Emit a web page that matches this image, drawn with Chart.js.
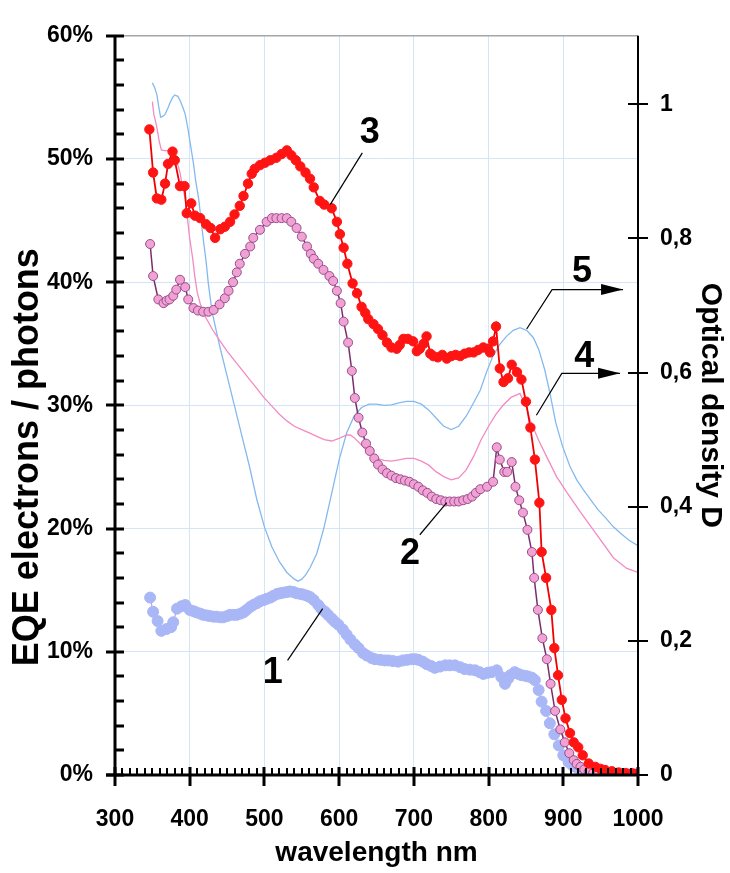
<!DOCTYPE html>
<html>
<head>
<meta charset="utf-8">
<script src="https://cdn.jsdelivr.net/npm/chart.js@4.4.0/dist/chart.umd.min.js"></script>
<style>
  body { margin: 0; background: #fff; }
  #canvas { width: 730px; height: 873px; }
</style>
</head>
<body>
<div id="canvas"><canvas id="myChart" width="730" height="873"></canvas></div>
<script>
// curve 1 - EQE (lavender dots)
const nm1 = [347,351,357,362,369,375,378,383,389,394,400,405,409,414,418,423,427,432,436,441,445,450,454,459,463,468,472,476,481,485,490,494,499,503,508,512,517,521,525,530,534,539,543,548,552,557,561,566,572,576,581,585,590,594,599,605,610,615,621,626,632,637,643,648,655,661,666,672,679,685,691,697,702,706,712,717,723,728,735,742,748,755,762,768,775,782,788,793,799,804,811,817,822,826,829,835,840,844,849,853,858,862,867,871,877,882,888,894,900,907,912,916,922,929,936,944,952,960,968,976,984,992];
const eqe1 = [14.4,13.25,12.5,11.7,11.85,12.0,12.4,13.5,13.7,13.8,13.4,13.3,13.2,13.1,13.0,12.95,12.9,12.85,12.85,12.8,12.8,12.9,13.0,13.0,13.0,13.1,13.2,13.4,13.65,13.8,13.95,14.1,14.2,14.3,14.4,14.55,14.7,14.75,14.8,14.85,14.9,14.85,14.75,14.7,14.65,14.55,14.45,14.2,13.8,13.5,13.25,13.0,12.7,12.45,12.2,11.8,11.4,11.0,10.6,10.3,9.9,9.7,9.5,9.4,9.35,9.3,9.3,9.25,9.2,9.3,9.35,9.4,9.4,9.35,9.2,9.0,8.85,8.7,8.8,8.9,8.9,8.9,8.75,8.6,8.55,8.5,8.35,8.2,8.3,8.35,8.5,7.95,7.4,7.8,8.1,8.35,8.2,8.1,8.05,8.0,7.9,7.7,6.9,5.96,5.2,4.2,3.3,2.4,1.6,1.06,0.8,0.66,0.45,0.26,0.18,0.12,0.1,0.1,0.1,0.1,0.1,0.1];

// curve 2 - EQE (pink dots)
const nm2 = [347,351,358,365,369,373,378,382,387,394,398,405,411,418,425,432,440,447,452,458,463,467,474,481,485,494,503,510,516,523,530,536,543,550,557,562,566,572,579,587,592,597,602,606,612,617,621,626,631,636,641,647,652,658,664,670,676,682,688,694,700,706,712,718,724,730,736,742,748,754,760,766,772,778,783,789,798,806,811,815,821,825,831,836,841,846,852,858,861,866,872,878,883,889,896,902,908,914,918,923,928,934,940,947,955,963,971,979,987,995];
const eqe2 = [43.1,40.5,38.6,38.3,38.5,38.6,38.9,39.4,40.2,39.6,38.6,37.9,37.7,37.6,37.6,37.75,38.2,38.7,39.3,40.0,40.8,41.5,42.3,42.9,43.6,44.25,44.9,45.2,45.2,45.2,45.2,44.9,44.4,43.7,42.9,42.3,41.9,41.5,41.0,40.5,40.1,39.3,38.3,36.8,35.1,32.8,30.6,29.0,27.8,26.9,26.3,25.7,25.2,24.8,24.5,24.3,24.1,24.0,23.9,23.8,23.6,23.4,23.1,22.9,22.6,22.4,22.3,22.2,22.2,22.2,22.2,22.3,22.4,22.6,22.9,23.2,23.4,23.8,26.6,25.6,24.6,24.6,25.4,23.4,22.3,21.3,19.9,18.1,16.0,13.4,11.1,9.4,7.4,5.2,3.7,2.65,1.77,1.2,0.9,0.66,0.45,0.26,0.18,0.13,0.1,0.1,0.1,0.1,0.1,0.1];

// curve 3 - EQE (red dots)
const nm3 = [346,351,356,362,367,371,377,380,387,393,396,402,407,414,422,428,434,441,447,454,460,467,472,478,483,487,494,501,508,516,523,530,536,542,548,555,561,566,574,580,590,597,601,606,611,618,624,630,635,639,646,652,658,664,670,677,681,686,692,699,704,708,713,717,722,726,732,738,744,750,756,762,768,774,780,786,793,799,802,806,810,815,820,826,831,838,844,850,856,862,868,871,877,884,888,893,898,903,909,914,920,926,934,943,950,956,965,974,983,992,998];
const eqe3 = [52.4,48.9,46.8,46.7,48.0,49.6,50.6,49.9,47.8,47.8,45.6,46.4,45.4,45.2,44.7,44.4,43.6,44.3,44.5,44.9,45.5,46.2,47.0,48.0,48.8,49.2,49.5,49.7,49.9,50.1,50.4,50.7,50.3,49.9,49.4,48.9,48.4,47.7,46.6,46.3,46.0,44.9,43.9,42.8,41.5,39.9,39.1,38.0,37.5,37.0,36.6,36.2,35.7,35.1,34.7,34.6,34.9,35.4,35.4,35.2,34.4,34.6,35.0,35.6,34.2,34.0,33.9,34.1,33.8,34.0,34.1,34.0,34.2,34.3,34.3,34.5,34.7,34.6,34.3,35.2,36.4,33.0,31.9,32.2,33.3,32.7,32.1,30.3,28.2,25.6,22.1,18.1,16.0,13.4,10.3,8.1,6.1,4.6,3.4,2.65,2.25,1.6,0.93,0.66,0.5,0.4,0.3,0.2,0.15,0.13,0.1];

// curve 4 - optical density (pink line)
const nm4 = [350,352,356,359,362,366,370,376,380,384,387,390,394,397,400,404,407,410,414,420,430,440,450,460,470,480,490,500,510,520,530,540,550,560,570,580,590,600,610,615,620,630,640,650,660,670,680,690,700,710,720,730,740,750,760,770,780,790,800,810,820,830,842,850,856,867,878,891,905,923,945,967,985,1000];
const od4 = [1.004,0.985,0.966,0.946,0.932,0.931,0.931,0.931,0.922,0.91,0.898,0.88,0.859,0.83,0.80,0.77,0.742,0.72,0.703,0.685,0.665,0.648,0.632,0.618,0.604,0.59,0.576,0.562,0.55,0.538,0.528,0.52,0.515,0.51,0.505,0.5,0.498,0.502,0.507,0.507,0.503,0.492,0.48,0.472,0.469,0.468,0.47,0.472,0.472,0.468,0.462,0.452,0.445,0.44,0.443,0.455,0.475,0.5,0.52,0.538,0.552,0.563,0.569,0.55,0.528,0.499,0.474,0.445,0.421,0.392,0.358,0.324,0.308,0.302];

// curve 5 - optical density (blue line)
const nm5 = [350,353,356,358,361,364,367,371,374,377,380,384,387,391,394,398,401,405,408,412,415,418,422,425,430,440,450,460,470,480,490,500,510,520,530,540,545,550,555,561,570,580,590,600,610,620,630,640,650,660,670,680,690,700,710,720,730,740,750,760,770,780,789,797,806,815,824,833,842,851,860,867,875,882,890,899,909,918,927,937,947,957,967,977,988,1000];
const od5 = [1.032,1.025,1.015,1.0,0.981,0.982,0.985,0.995,1.003,1.01,1.014,1.012,1.006,0.995,0.985,0.961,0.94,0.912,0.886,0.859,0.83,0.80,0.765,0.732,0.69,0.64,0.595,0.55,0.505,0.46,0.41,0.37,0.34,0.318,0.302,0.292,0.289,0.292,0.298,0.309,0.33,0.37,0.42,0.47,0.51,0.535,0.548,0.553,0.553,0.551,0.552,0.555,0.557,0.557,0.553,0.544,0.532,0.52,0.515,0.52,0.535,0.555,0.574,0.6,0.625,0.642,0.654,0.663,0.667,0.663,0.652,0.635,0.605,0.57,0.525,0.49,0.46,0.44,0.425,0.41,0.395,0.383,0.37,0.36,0.35,0.342];

const xTicks = [300,400,500,600,700,800,900,1000];
const rightTicks = [0,0.2,0.4,0.6,0.8,1];

// curve labels (nm, %) and leader lines
const labelText = ['1','2','3','4','5'];
const labelX = [511,695,641,928,925];
const labelY = [8.3,17.9,52.1,33.9,40.8];
const leaderNm = [[531,578],[708,744],[631,588],[864,898,976],[851,885,980]];
const leaderPct = [[9.3,13.5],[19.5,22.1],[50.5,46.3],[29.2,32.6,32.6],[36.2,39.4,39.4]];
const hasArrow = [false,false,false,true,true];

const leftTitle = 'EQE electrons / photons';

const FONT = "'Liberation Sans', Arial, sans-serif";

function pts(xs, ys) {
    return xs.map((x, i) => ({ x: x, y: ys[i] }));
}

const data = {
    datasets: [
        {
            label: '3', data: pts(nm3, eqe3), yAxisID: 'y', order: 1,
            borderColor: '#f00000', borderWidth: 1.8,
            pointBackgroundColor: '#ff1414', pointBorderColor: '#ff1414',
            pointRadius: 4.7, pointBorderWidth: 1
        },
        {
            label: '2', data: pts(nm2, eqe2), yAxisID: 'y', order: 2,
            borderColor: '#7a2d6c', borderWidth: 1.5,
            pointBackgroundColor: '#f1a2d4', pointBorderColor: '#9a4c8c',
            pointRadius: 4.5, pointBorderWidth: 1
        },
        {
            label: '1', data: pts(nm1, eqe1), yAxisID: 'y', order: 3,
            borderColor: '#cc9ae0', borderWidth: 1.2,
            pointBackgroundColor: '#a9b7f6', pointBorderColor: '#a9b7f6',
            pointRadius: 5.5, pointBorderWidth: 1
        },
        {
            label: '4', data: pts(nm4, od4), yAxisID: 'y2', order: 4,
            borderColor: '#f38ac2', borderWidth: 1.3, pointRadius: 0
        },
        {
            label: '5', data: pts(nm5, od5), yAxisID: 'y2', order: 5,
            borderColor: '#84b9ee', borderWidth: 1.3, pointRadius: 0
        }
    ]
};

const axesPlugin = {
    id: 'axesPlugin',
    afterDraw(chart) {
        const ctx = chart.ctx;
        const x = chart.scales.x, y = chart.scales.y, y2 = chart.scales.y2;
        const L = x.left, R = x.right, T = y.top, B = y.bottom;
        ctx.save();
        // top frame
        ctx.strokeStyle = '#a6a6a6';
        ctx.lineWidth = 1.5;
        ctx.beginPath(); ctx.moveTo(L, T); ctx.lineTo(R, T); ctx.stroke();
        ctx.strokeStyle = '#000';
        ctx.lineCap = 'butt';
        // right axis
        ctx.lineWidth = 2;
        ctx.beginPath(); ctx.moveTo(R, T); ctx.lineTo(R, B + 2); ctx.stroke();
        rightTicks.forEach(v => {
            const py = Math.round(y2.getPixelForValue(v));
            ctx.beginPath(); ctx.moveTo(R - 10, py); ctx.lineTo(R + 10, py); ctx.stroke();
        });
        // left axis
        ctx.lineWidth = 3;
        ctx.beginPath(); ctx.moveTo(L, T); ctx.lineTo(L, B + 1); ctx.stroke();
        for (let v = 0; v <= 60; v += 2) {
            const py = Math.round(y.getPixelForValue(v));
            ctx.beginPath();
            if (v % 10 === 0) { ctx.moveTo(L - 9, py); ctx.lineTo(L + 9, py); }
            else { ctx.moveTo(L, py); ctx.lineTo(L + 9, py); }
            ctx.stroke();
        }
        // bottom axis
        ctx.beginPath(); ctx.moveTo(L - 9, B); ctx.lineTo(R, B); ctx.stroke();
        for (let v = 300; v <= 1000; v += 10) {
            const px = Math.round(x.getPixelForValue(v));
            ctx.beginPath();
            if (v % 100 === 0) { ctx.lineWidth = 3; ctx.moveTo(px, B - 8); ctx.lineTo(px, B + 11); }
            else { ctx.lineWidth = 2; ctx.moveTo(px, B - 7); ctx.lineTo(px, B); }
            ctx.stroke();
        }
        // left axis title (sits lower than the axis centre in the original)
        ctx.save();
        ctx.translate(28, y.getPixelForValue(25.8));
        ctx.rotate(-Math.PI / 2);
        ctx.font = 'bold 36px ' + FONT;
        ctx.fillStyle = '#000';
        ctx.textAlign = 'center';
        ctx.textBaseline = 'middle';
        ctx.fillText(leftTitle, 0, 0);
        ctx.restore();
        // curve labels
        ctx.lineWidth = 1.2;
        ctx.fillStyle = '#000';
        for (let i = 0; i < labelText.length; i++) {
            const xs = leaderNm[i].map(v => x.getPixelForValue(v));
            const ys = leaderPct[i].map(v => y.getPixelForValue(v));
            ctx.beginPath();
            ctx.moveTo(xs[0], ys[0]);
            for (let k = 1; k < xs.length; k++) ctx.lineTo(xs[k], ys[k]);
            ctx.stroke();
            if (hasArrow[i]) {
                const tx = xs[xs.length - 1], ty = ys[ys.length - 1];
                ctx.beginPath();
                ctx.moveTo(tx, ty);
                ctx.lineTo(tx - 22, ty - 5.5);
                ctx.lineTo(tx - 22, ty + 5.5);
                ctx.closePath();
                ctx.fill();
            }
            ctx.font = 'bold 36px ' + FONT;
            ctx.textAlign = 'center';
            ctx.textBaseline = 'middle';
            ctx.fillText(labelText[i], x.getPixelForValue(labelX[i]), y.getPixelForValue(labelY[i]));
        }
        ctx.restore();
    }
};

const tickFont = { family: FONT, size: 23, weight: 'bold' };

const options = {
    responsive: false,
    animation: false,
    layout: { padding: { top: 20, left: 0, right: 0, bottom: 0 } },
    elements: { line: { tension: 0 } },
    scales: {
        x: {
            type: 'linear', min: 300, max: 1000,
            afterFit: s => { s.height = 98; },
            afterBuildTicks: s => { s.ticks = xTicks.map(v => ({ value: v })); },
            border: { display: false },
            grid: { color: '#d5e5f8', lineWidth: 1, drawTicks: false },
            ticks: { color: '#000', font: tickFont, padding: 31, maxRotation: 0, callback: v => String(v) },
            title: {
                display: true, text: 'wavelength nm', color: '#000',
                font: { family: FONT, size: 28, weight: 'bold' },
                padding: { top: 0, bottom: 3 }
            }
        },
        y: {
            position: 'left', min: 0, max: 60,
            afterFit: s => { s.width = 115; },
            border: { display: false },
            grid: { color: c => (c.tick.value === 0 || c.tick.value === 60) ? 'rgba(0,0,0,0)' : '#d5e5f8', drawTicks: false },
            ticks: { stepSize: 10, color: '#000', font: tickFont, padding: 22, callback: v => v + '%' },
            title: { display: false }
        },
        y2: {
            position: 'right', min: 0, max: 1.1022,
            afterFit: s => { s.width = 92; },
            afterBuildTicks: s => { s.ticks = rightTicks.map(v => ({ value: v })); },
            border: { display: false },
            grid: { display: false, drawTicks: false },
            ticks: {
                color: '#000', font: tickFont, padding: 22,
                callback: v => String(Math.round(v * 10) / 10).replace('.', ',')
            },
            title: {
                display: true, text: 'Optical density D', color: '#000',
                font: { family: FONT, size: 30, weight: 'bold' },
                padding: { top: 2, bottom: 0 }
            }
        }
    },
    plugins: {
        legend: { display: false },
        tooltip: { enabled: false }
    }
};

const canvas = document.getElementById('myChart');
const ctx = canvas.getContext('2d');

const myChart = new Chart(ctx, {
    type: 'line',
    data: data,
    options: options,
    plugins: [axesPlugin]
});
</script>
</body>
</html>
